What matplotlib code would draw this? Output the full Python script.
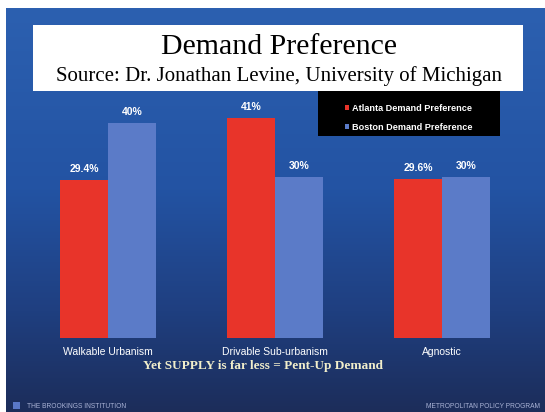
import matplotlib.pyplot as plt
import numpy as np
from matplotlib.patches import Rectangle
from matplotlib.colors import LinearSegmentedColormap

categories = ["Walkable Urbanism", "Drivable Sub-urbanism", "Agnostic"]
atlanta = [29.4, 41, 29.6]
boston = [40, 30, 30]
atlanta_labels = ["29.4%", "41%", "29.6%"]
boston_labels = ["40%", "30%", "30%"]

W, H = 545, 412
fig = plt.figure(figsize=(W / 100, H / 100), dpi=100, facecolor="white")

# slide background, drawn in pixel coordinates
bg = fig.add_axes([0, 0, 1, 1])
bg.set_xlim(0, W)
bg.set_ylim(H, 0)
bg.axis("off")
grad = LinearSegmentedColormap.from_list(
    "slide", [(0, "#2c60b0"), (0.45, "#2353a3"), (0.75, "#1f3f80"), (1, "#1c2d5a")])
bg.imshow(np.linspace(0, 1, 256).reshape(-1, 1), cmap=grad, aspect="auto",
          extent=(6, W, H, 8), zorder=0)

# title box
bg.add_patch(Rectangle((33, 25), 490, 66, facecolor="white", edgecolor="none", zorder=1))
bg.text(279, 47, "Demand Preference", ha="center", va="center",
        family="Liberation Serif", fontsize=21.5, color="black", zorder=2)
bg.text(279, 76, "Source: Dr. Jonathan Levine, University of Michigan", ha="center",
        va="center", family="Liberation Serif", fontsize=15, color="black", zorder=2)

# legend box
bg.add_patch(Rectangle((318, 91), 182, 45, facecolor="black", edgecolor="none", zorder=1))

# footer
bg.add_patch(Rectangle((13, 402), 7, 7, facecolor="#5a78c8", edgecolor="none", zorder=1))
bg.text(27, 406, "THE BROOKINGS INSTITUTION", ha="left", va="center",
        family="Liberation Sans", fontsize=4.8, color="#aab3d6", zorder=2)
bg.text(540, 406, "METROPOLITAN POLICY PROGRAM", ha="right", va="center",
        family="Liberation Sans", fontsize=4.8, color="#aab3d6", zorder=2)
bg.text(263, 366, "Yet SUPPLY is far less = Pent-Up Demand", ha="center", va="center",
        family="Liberation Serif", fontweight="bold", fontsize=9.5, color="#f1eecb", zorder=2)

# bar chart
ax = fig.add_axes([24.5 / W, 74 / H, 501 / W, 242 / H])
ax.patch.set_alpha(0)
x = np.arange(len(categories))
w = 0.287
b1 = ax.bar(x - w / 2, atlanta, w, color="#e8342a", label="Atlanta Demand Preference")
b2 = ax.bar(x + w / 2, boston, w, color="#5b7bc8", label="Boston Demand Preference")
ax.set_xlim(-0.5, 2.5)
ax.set_ylim(0, 45)
ax.axis("off")

for bars, labels in ((b1, atlanta_labels), (b2, boston_labels)):
    ax.bar_label(bars, labels=labels, padding=4, color="white", fontsize=7.5,
                 fontweight="bold", family="Liberation Sans")

for xi, name in zip(x, categories):
    ax.annotate(name, (xi, 0), xytext=(0, -14), textcoords="offset pixels",
                ha="center", va="center", color="white", fontsize=7.5,
                family="Liberation Sans")

leg = ax.legend(loc="upper left", bbox_to_anchor=(340 / W, (H - 99) / H),
                bbox_transform=fig.transFigure, frameon=False,
                handlelength=0.5, handleheight=0.5, handletextpad=0.35,
                labelspacing=1.15, borderpad=0,
                prop={"family": "Liberation Sans", "weight": "bold", "size": 6.6})
for t in leg.get_texts():
    t.set_color("white")

fig.savefig("out.png", dpi=100, facecolor="white")
